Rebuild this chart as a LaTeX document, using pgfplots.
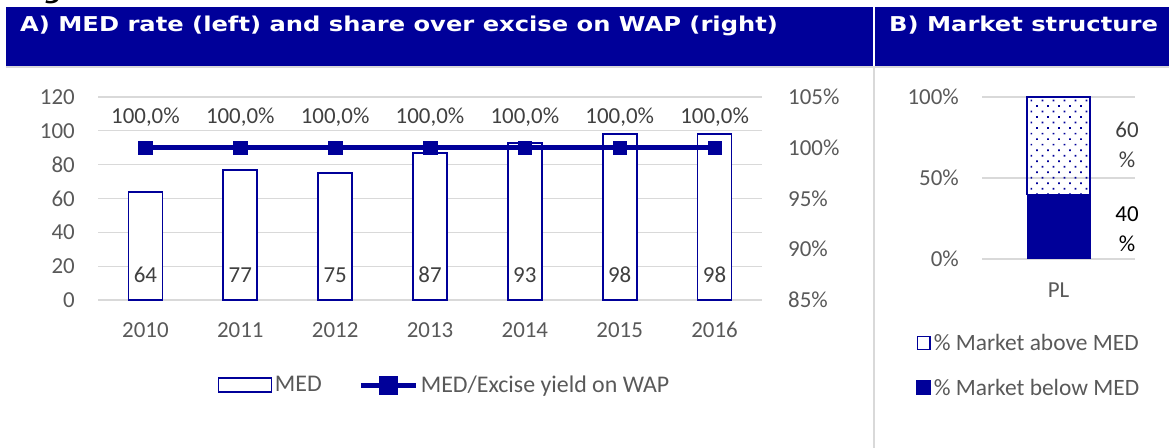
\documentclass[border=0pt]{standalone}
\usepackage{fontspec}
\setmainfont{Carlito}
\newfontfamily\hdrfont[FakeStretch=1.185]{DejaVu Sans}
\usepackage{pgfplots}
\pgfplotsset{compat=1.18}
\usetikzlibrary{patterns.meta}
\definecolor{hdr}{RGB}{0,0,153}
\definecolor{tickgrey}{RGB}{89,89,89}
\definecolor{lblgrey}{RGB}{64,64,64}
\definecolor{gridgrey}{RGB}{217,217,217}
\newcommand{\bigf}{\fontsize{23}{30}\selectfont}
\begin{document}
\begin{tikzpicture}[x=1bp,y=1bp]
\path[use as bounding box, clip] (0,0) rectangle (1169,448);
% headers
\fill[hdr] (6,441) rectangle (873,382);
\fill[hdr] (875,441) rectangle (1169,382);
\draw[gridgrey, line width=2bp] (6,381) -- (1169,381);
\draw[gridgrey, line width=2bp] (874,382) -- (874,0);
\node[anchor=base west, inner sep=0, text=white, font=\hdrfont\bfseries\fontsize{20.5}{24}\selectfont] at (20,416.3) {A) MED rate (left) and share over excise on WAP (right)};
\node[anchor=base west, inner sep=0, text=white, font=\hdrfont\bfseries\fontsize{20.5}{24}\selectfont] at (889,416.3) {B) Market structure};
\node[anchor=base west, inner sep=0, text=black, font=\hdrfont\bfseries\itshape\fontsize{20.5}{24}\selectfont] at (20,448) {Figure 28 - MED in Poland};

% Panel A, left axis (bars)
\begin{axis}[at={(98bp,148bp)}, anchor=south west, scale only axis, width=664bp, height=203bp,
  xmin=-0.5, xmax=6.5, ymin=0, ymax=120, ytick={0,20,...,120},
  xtick={0,...,6}, xticklabels={2010,2011,2012,2013,2014,2015,2016},
  axis line style={draw=none}, major tick length=0pt,
  ymajorgrids, grid style={gridgrey, line width=1.3bp},
  tick label style={font=\bigf, text=tickgrey},
  yticklabel style={inner sep=0pt, anchor=east, xshift=-23bp},
  xticklabel style={inner sep=0pt, anchor=base, yshift=-37.5bp},
  /pgf/number format/assume math mode=true, clip=false]
\addplot[ybar, bar width=34bp, draw=hdr, line width=1.8bp, fill=white]
  coordinates {(0,64) (1,77) (2,75) (3,87) (4,93) (5,98) (6,98)};
\foreach \i/\v in {0/64,1/77,2/75,3/87,4/93,5/98,6/98}{
  \edef\tmp{\noexpand\node[anchor=base, inner sep=0pt, text=lblgrey, font=\noexpand\bigf, yshift=17.5bp] at (axis cs:\i,0) {\v};}\tmp
}
\end{axis}

% Panel A, right axis (line)
\begin{axis}[at={(98bp,148bp)}, anchor=south west, scale only axis, width=664bp, height=203bp,
  xmin=-0.5, xmax=6.5, ymin=85, ymax=105, ytick={85,90,95,100,105},
  axis y line*=right, axis x line=none,
  axis line style={draw=none}, major tick length=0pt,
  yticklabel={\pgfmathprintnumber{\tick}\%},
  tick label style={font=\bigf, text=tickgrey},
  yticklabel style={inner sep=0pt, anchor=west, xshift=26bp},
  /pgf/number format/assume math mode=true, clip=false,
  legend columns=2,
  legend style={draw=none, fill=none, at={(0.1807,-0.419)}, anchor=west,
    font=\fontsize{24}{30}\selectfont, text=tickgrey, inner sep=0pt,
    nodes={inner sep=2.5bp},
    /tikz/every even column/.append style={column sep=34bp}}]
\addlegendimage{legend image code/.code={\draw[hdr, line width=1.3bp, fill=white] (0bp,-7bp) rectangle (53bp,7bp);}}
\addlegendentry{MED}
\addplot[hdr, line width=5bp, mark=square*, mark size=6.8bp, mark options={line width=0.5bp},
  legend image code/.code={\draw[hdr, line width=5bp] (0bp,0bp) -- (55bp,0bp);
    \fill[hdr] (20.5bp,-7bp) rectangle (34.5bp,7bp);}]
  coordinates {(0,100) (1,100) (2,100) (3,100) (4,100) (5,100) (6,100)};
\addlegendentry{MED/Excise yield on WAP}
\foreach \i in {0,...,6}{
  \edef\tmp{\noexpand\node[anchor=base, inner sep=0pt, text=lblgrey, font=\noexpand\bigf, yshift=24.5bp] at (axis cs:\i,100) {100,0\noexpand\%};}\tmp
}
\end{axis}

% Panel B
\begin{axis}[at={(982bp,189bp)}, anchor=south west, scale only axis, width=153bp, height=162bp,
  xmin=-0.5, xmax=0.5, ymin=0, ymax=100, ytick={0,50,100},
  xtick={0}, xticklabels={PL},
  ybar stacked, bar width=63bp,
  axis line style={draw=none}, major tick length=0pt,
  ymajorgrids, grid style={gridgrey, line width=1.3bp},
  yticklabel={\pgfmathprintnumber{\tick}\%},
  tick label style={font=\bigf, text=tickgrey},
  yticklabel style={inner sep=0pt, anchor=east, xshift=-23bp},
  xticklabel style={inner sep=0pt, anchor=base, yshift=-39bp},
  /pgf/number format/assume math mode=true, clip=false,
  reverse legend,
  legend style={draw=none, fill=none, at={(-0.431,-0.657)}, anchor=west,
    font=\fontsize{23.5}{30}\selectfont, text=tickgrey, inner sep=0pt, row sep=22bp,
    nodes={inner sep=2.5bp}, cells={anchor=west}}]
\addplot[fill=hdr, draw=hdr, line width=1bp,
  legend image code/.code={\fill[hdr] (0bp,-7bp) rectangle (14bp,7bp);}]
  coordinates {(0,40)};
\addlegendentry{\% Market below MED}
\addplot[pattern={Dots[distance=7.8bp, angle=45, radius=1.2bp]}, pattern color=hdr, draw=hdr, line width=1.3bp,
  legend image code/.code={\draw[hdr, line width=1.3bp, fill=white] (0.65bp,-6.35bp) rectangle (13.35bp,6.35bp);}]
  coordinates {(0,60)};
\addlegendentry{\% Market above MED}
\node[align=center, inner sep=0pt, text=lblgrey, font=\bigf] at (axis cs:0.448,70.4) {60\\\%};
\node[align=center, inner sep=0pt, text=black, font=\bigf] at (axis cs:0.448,18.5) {40\\\%};
\end{axis}
\end{tikzpicture}
\end{document}
